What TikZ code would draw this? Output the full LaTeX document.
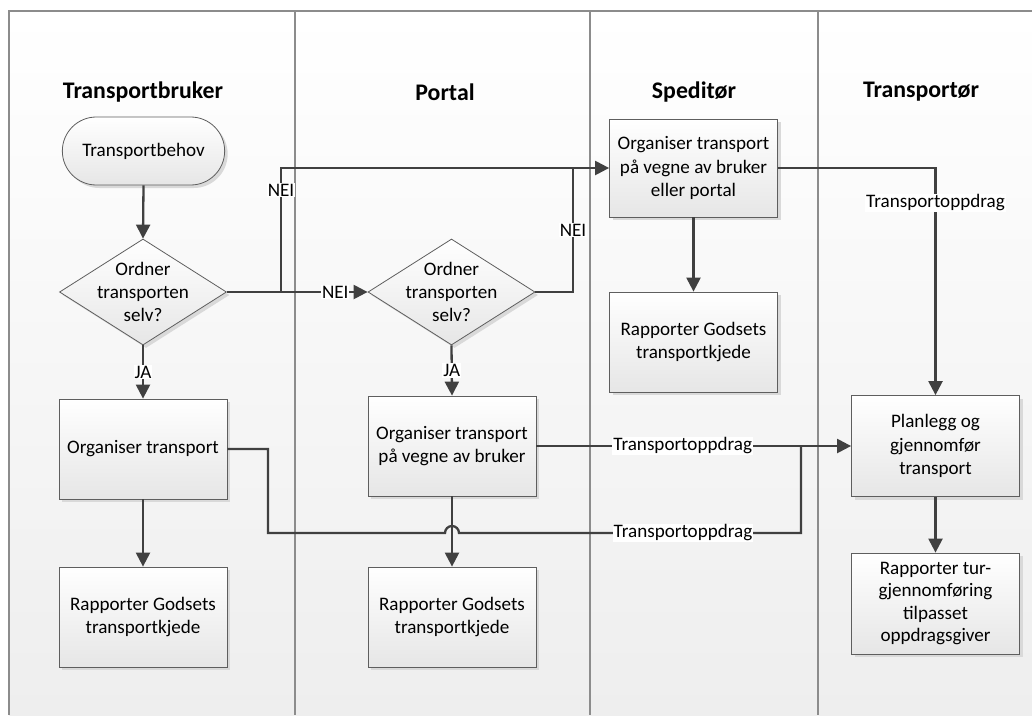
\documentclass[tikz,border=0pt]{standalone}
\usepackage{fontspec}
\setmainfont{Carlito}
\usetikzlibrary{arrows.meta,shapes.geometric,shapes.misc,shadows}

\definecolor{linegray}{HTML}{404040}
\definecolor{framegray}{HTML}{8C8C8C}
\definecolor{lanebottom}{HTML}{EEEEEE}
\definecolor{boxbottom}{HTML}{E6E6E6}
\definecolor{boxline}{HTML}{5E5E5E}

\tikzset{
  x=1pt, y=-1pt,
  every node/.style={font=\fontsize{19.1}{23.3}\selectfont},
  shapebase/.style={draw=boxline, line width=0.8pt, top color=white, bottom color=boxbottom,
    drop shadow={shadow xshift=3pt, shadow yshift=-3pt, fill=black!15, opacity=1}},
  process/.style={shapebase, rectangle, minimum width=168pt, minimum height=100pt,
    inner sep=2pt, align=center},
  decision/.style={shapebase, diamond, minimum width=167pt, minimum height=106pt,
    aspect=1.575, inner sep=0pt},
  terminal/.style={shapebase, rounded rectangle, minimum width=169pt, minimum height=68pt},
  dtext/.style={align=center, inner sep=0pt},
  header/.style={font=\fontsize{23.8}{28}\selectfont\bfseries},
  wire/.style={draw=linegray, line width=2.3pt},
  conn/.style={wire, -{Triangle[length=14pt, width=14pt]}},
  lbl/.style={fill=white, inner sep=1pt, text=black},
  lane/.style={draw=framegray, line width=1.3pt}
}

\begin{document}
\begin{tikzpicture}
  \useasboundingbox (0,0) rectangle (1032,715);
  \fill[white] (0,0) rectangle (1032,715);

  % swimlane background and borders
  \shade[top color=white, bottom color=lanebottom] (9,11) rectangle (1032,715);
  \draw[lane] (9,715) -- (9,11) -- (1032,11);
  \draw[lane] (295,11) -- (295,715);
  \draw[lane] (590,11) -- (590,715);
  \draw[lane] (818,11) -- (818,715);

  % lane headers
  \node[header] (h1) at (143,92) {Transportbruker};
  \node[header] (h2) at (445,92) {Portal};
  \node[header] (h3) at (694,92) {Speditør};
  \node[header] (h4) at (921,92) {Transportør};

  % Transportbruker
  \node[terminal] (tb) at (143.5,151) {Transportbehov};
  \node[decision] (d1) at (143,292) {};
  \node[dtext] (d1t) at (d1) {Ordner\\transporten\\selv?};
  \node[process] (org1) at (143,449) {Organiser transport};
  \node[process] (rap1) at (143,617) {Rapporter Godsets\\transportkjede};

  % Portal
  \node[decision] (d2) at (451.5,292) {};
  \node[dtext] (d2t) at (d2) {Ordner\\transporten\\selv?};
  \node[process] (org2) at (452,446) {Organiser transport\\på vegne av bruker};
  \node[process] (rap2) at (452,617) {Rapporter Godsets\\transportkjede};

  % Speditør
  \node[process, minimum height=98pt] (spd) at (693.5,168) {Organiser transport\\på vegne av bruker\\eller portal};
  \node[process] (rap3) at (693.5,342) {Rapporter Godsets\\transportkjede};

  % Transportør
  \node[process, minimum height=101pt] (plan) at (935.5,446) {Planlegg og\\gjennomfør\\transport};
  \node[process, minimum height=101pt, inner sep=1pt, font=\fontsize{19.1}{22.5}\selectfont] (rap4) at (935.5,603.5)
    {Rapporter tur-\\gjennomføring\\tilpasset\\oppdragsgiver};

  % junction points
  \coordinate (j1) at (281,292);
  \coordinate (j2) at (573,168);
  \coordinate (j3) at (801,446);
  \coordinate (k1) at (268,449);
  \coordinate (k2) at (268,533);
  \coordinate (k3) at (445,533);
  \coordinate (k4) at (801,533);

  % connectors
  \draw[conn] (tb.south) -- (d1.north);
  \draw[conn] (d1.south) -- node[lbl]{JA} (org1.north);
  \draw[conn] (org1.south) -- (rap1.north);
  \draw[conn] (d1.east) -- node[lbl, pos=0.77]{NEI} (d2.west);
  \draw[conn] (j1) |- node[lbl, pos=0.41]{NEI} (spd.west);
  \draw[wire] (d2.east) -| node[lbl, pos=0.75]{NEI} (j2);
  \draw[conn] (d2.south) -- node[lbl]{JA} (org2.north);
  \draw[conn] (spd.south) -- (rap3.north);
  \draw[conn] (spd.east) -| node[lbl, pos=0.577]{Transportoppdrag} (plan.north);
  \draw[conn] (org2.east) -- node[lbl, pos=0.465]{Transportoppdrag} (plan.west);
  \draw[wire] (org1.east) -- (k1) -- (k2) -- (k3)
    arc[start angle=180, end angle=0, radius=7pt]
    -- node[lbl, pos=0.655]{Transportoppdrag} (k4) -- (j3);
  \draw[conn] (org2.south) -- (rap2.north);
  \draw[conn] (plan.south) -- (rap4.north);
\end{tikzpicture}
\end{document}
